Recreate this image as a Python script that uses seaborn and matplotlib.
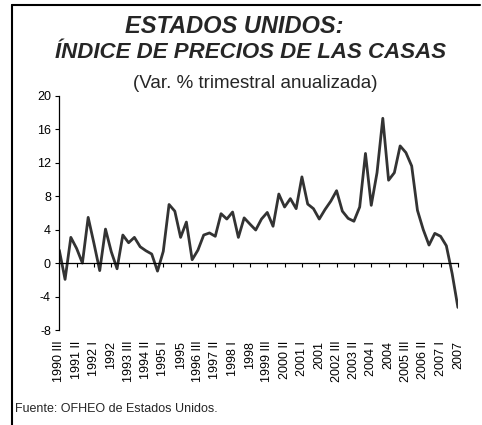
import pandas as pd
import matplotlib.pyplot as plt
import seaborn as sns
from matplotlib.lines import Line2D

# trimestres desde 1990 III hasta 2007 IV (70 datos)
values = [1.55, -1.95, 3.07, 1.75, 0.0, 5.46, 2.35, -0.9, 4.06, 1.35,
          -0.68, 3.35, 2.43, 3.07, 1.95, 1.47, 1.08, -0.96, 1.4, 7.0,
          6.2, 3.07, 4.9, 0.4, 1.55, 3.35, 3.6, 3.2, 5.9, 5.26,
          6.1, 3.07, 5.4, 4.66, 3.95, 5.26, 6.05, 4.4, 8.25, 6.7,
          7.7, 6.5, 10.3, 7.05, 6.5, 5.26, 6.4, 7.4, 8.65, 6.2,
          5.34, 5.0, 6.7, 13.1, 6.9, 10.8, 17.3, 9.9, 10.8, 14.0,
          13.2, 11.6, 6.3, 4.0, 2.15, 3.55, 3.2, 2.07, -1.24, -5.3]

tick_labels = ["1990 III", "1991 II", "1992 I", "1992", "1993 III", "1994 II",
               "1995 I", "1995", "1996 III", "1997 II", "1998 I", "1998",
               "1999 III", "2000 II", "2001 I", "2001", "2002 III", "2003 II",
               "2004 I", "2004", "2005 III", "2006 II", "2007 I", "2007"]
y_ticks = [-8, -4, 0, 4, 8, 12, 16, 20]

df = pd.DataFrame({"q": range(len(values)), "var": values})

sns.set_style("white")
plt.rcParams['font.family'] = ['Liberation Sans', 'DejaVu Sans']

fig = plt.figure(figsize=(4.82, 4.25), dpi=100)
ax = fig.add_axes([0.123, 0.2235, 0.827, 0.5513])

sns.lineplot(data=df, x="q", y="var", ax=ax, color="#333333", linewidth=2.0)

# eje x cruzando en 0 (antes de poner las etiquetas, porque reinicia los ticks)
ax.spines['top'].set_visible(False)
ax.spines['right'].set_visible(False)
ax.spines['bottom'].set_position(('data', 0))
for s in ['bottom', 'left']:
    ax.spines[s].set_linewidth(0.9)
    ax.spines[s].set_color("black")

ax.set_xlim(0, len(values) - 1)
ax.set_ylim(-8, 20)
ax.set_yticks(y_ticks)
ax.set_yticklabels([str(t) for t in y_ticks], fontsize=9)
ax.set_xticks(range(0, len(values), 3))
ax.set_xticklabels(tick_labels, rotation=90, fontsize=9, va="top", ha="center")
ax.set_xlabel("")
ax.set_ylabel("")

ax.tick_params(axis='y', direction='out', length=3, width=0.8, pad=3, left=True, colors='black')
ax.tick_params(axis='x', direction='out', length=3, width=0.8, pad=53, bottom=True, colors='black')

fig.text(0.487, 0.922, "ESTADOS UNIDOS:", ha="center", va="baseline",
         fontsize=17, fontweight="bold", fontstyle="italic")
fig.text(0.52, 0.8635, "ÍNDICE DE PRECIOS DE LAS CASAS", ha="center", va="baseline",
         fontsize=16, fontweight="bold", fontstyle="italic")
fig.text(0.53, 0.793, "(Var. % trimestral anualizada)", ha="center", va="baseline",
         fontsize=13.5)
fig.text(15 / 482, 1 - 412 / 425, "Fuente: OFHEO de Estados Unidos.", ha="left",
         va="baseline", fontsize=9)

# marco izquierdo y superior
fig.add_artist(Line2D([12 / 482, 12 / 482], [0, 1 - 5 / 425], color="black", linewidth=1.5))
fig.add_artist(Line2D([12 / 482, 480 / 482], [1 - 5 / 425, 1 - 5 / 425], color="black", linewidth=1.5))

fig.savefig("out.png", dpi=100)
